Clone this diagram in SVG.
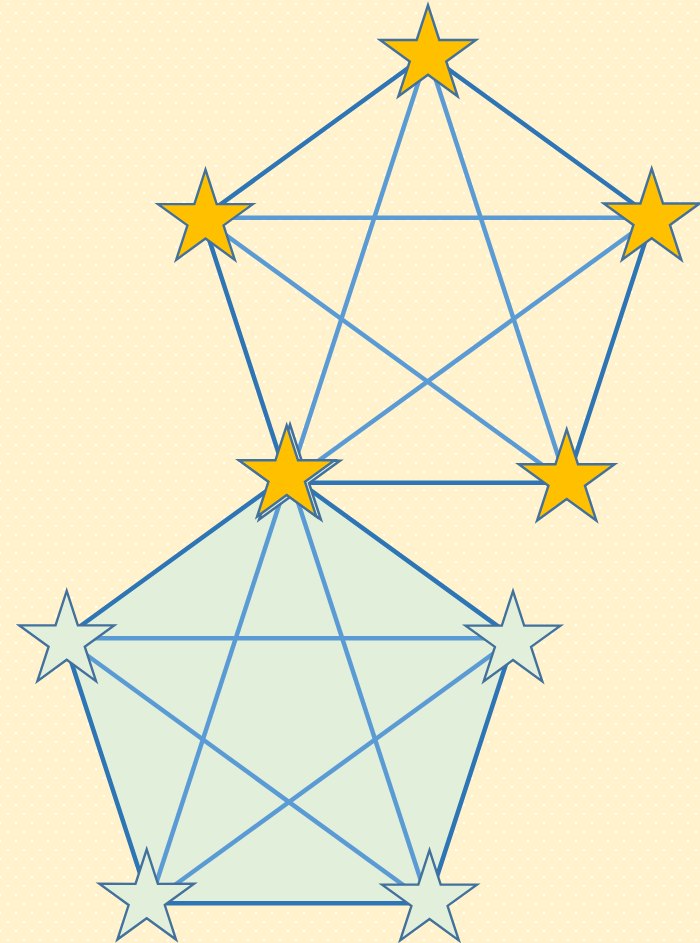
<svg xmlns="http://www.w3.org/2000/svg" xmlns:xlink="http://www.w3.org/1999/xlink" width="700" height="943" viewBox="0 0 700 943">
  <defs>
    <pattern id="dots" patternUnits="userSpaceOnUse" width="16" height="18">
      <rect width="16" height="18" fill="#FFF2CC"/>
      <rect x="7" y="3" width="2" height="2" fill="#FFFFFF"/>
      <rect x="15" y="12" width="2" height="2" fill="#FFFFFF"/>
      <rect x="-1" y="12" width="2" height="2" fill="#FFFFFF"/>
    </pattern>
    <path id="star" d="M0,-52.5 L11.76,-16.18 L49.93,-16.22 L19.02,6.18 L30.86,42.47 L0,20 L-30.86,42.47 L-19.02,6.18 L-49.93,-16.22 L-11.76,-16.18 Z"/>
  </defs>
  <style>
    .edge { stroke: #2E75B6; stroke-width: 4.5; fill: none; stroke-linecap: butt; }
    .diag { stroke: #5B9BD5; stroke-width: 4.5; fill: none; stroke-linecap: butt; }
    .gold { fill: #FFC000; stroke: #41719C; stroke-width: 2.5; stroke-linejoin: miter; }
    .green { fill: #E2EFDA; stroke: #41719C; stroke-width: 2.5; stroke-linejoin: miter; }
  </style>

  <rect x="0" y="0" width="700" height="943" fill="url(#dots)"/>

  <g id="lower-pentagon-fill">
    <polygon points="289,474.5 514.4,638.3 428.3,903.2 149.7,903.2 63.6,638.3" fill="#E2EFDA"/>
  </g>

  <g id="connectors">
    <line class="diag" x1="63.6" y1="638.3" x2="514.4" y2="638.3"/>
    <line class="diag" x1="289" y1="474.5" x2="149.7" y2="903.2"/>
    <line class="diag" x1="289" y1="474.5" x2="428.3" y2="903.2"/>
    <line class="diag" x1="63.6" y1="638.3" x2="428.3" y2="903.2"/>
    <line class="diag" x1="514.4" y1="638.3" x2="149.7" y2="903.2"/>
    <polygon class="edge" points="289,474.5 514.4,638.3 428.3,903.2 149.7,903.2 63.6,638.3"/>
    <line class="diag" x1="202.1" y1="217.8" x2="652.9" y2="217.8"/>
    <line class="diag" x1="427.5" y1="54" x2="288.2" y2="482.7"/>
    <line class="diag" x1="427.5" y1="54" x2="566.8" y2="482.7"/>
    <line class="diag" x1="202.1" y1="217.8" x2="566.8" y2="482.7"/>
    <line class="diag" x1="652.9" y1="217.8" x2="288.2" y2="482.7"/>
    <polygon class="edge" points="427.5,54 652.9,217.8 566.8,482.7 288.2,482.7 202.1,217.8"/>
  </g>

  <g id="star-lower-top"><use xlink:href="#star" class="green" transform="translate(290,477)"/></g>
  <g id="star-lower-left"><use xlink:href="#star" class="green" transform="translate(66.7,640.8) scale(0.95)"/></g>
  <g id="star-lower-right"><use xlink:href="#star" class="green" transform="translate(513,641) scale(0.95)"/></g>
  <g id="star-lower-bottom-left"><use xlink:href="#star" class="green" transform="translate(146.7,899.2) scale(0.95)"/></g>
  <g id="star-lower-bottom-right"><use xlink:href="#star" class="green" transform="translate(429.5,900) scale(0.95)"/></g>

  <g id="star-upper-top"><use xlink:href="#star" class="gold" transform="translate(428,55.5) scale(0.96)"/></g>
  <g id="star-upper-left"><use xlink:href="#star" class="gold" transform="translate(205.5,219.5) scale(0.95)"/></g>
  <g id="star-upper-right"><use xlink:href="#star" class="gold" transform="translate(651.7,219) scale(0.96)"/></g>
  <g id="star-upper-bottom-right"><use xlink:href="#star" class="gold" transform="translate(566.7,479.8) scale(0.96)"/></g>
  <g id="star-upper-bottom-left"><use xlink:href="#star" class="gold" transform="translate(286.7,475.8) scale(0.96)"/></g>
</svg>
